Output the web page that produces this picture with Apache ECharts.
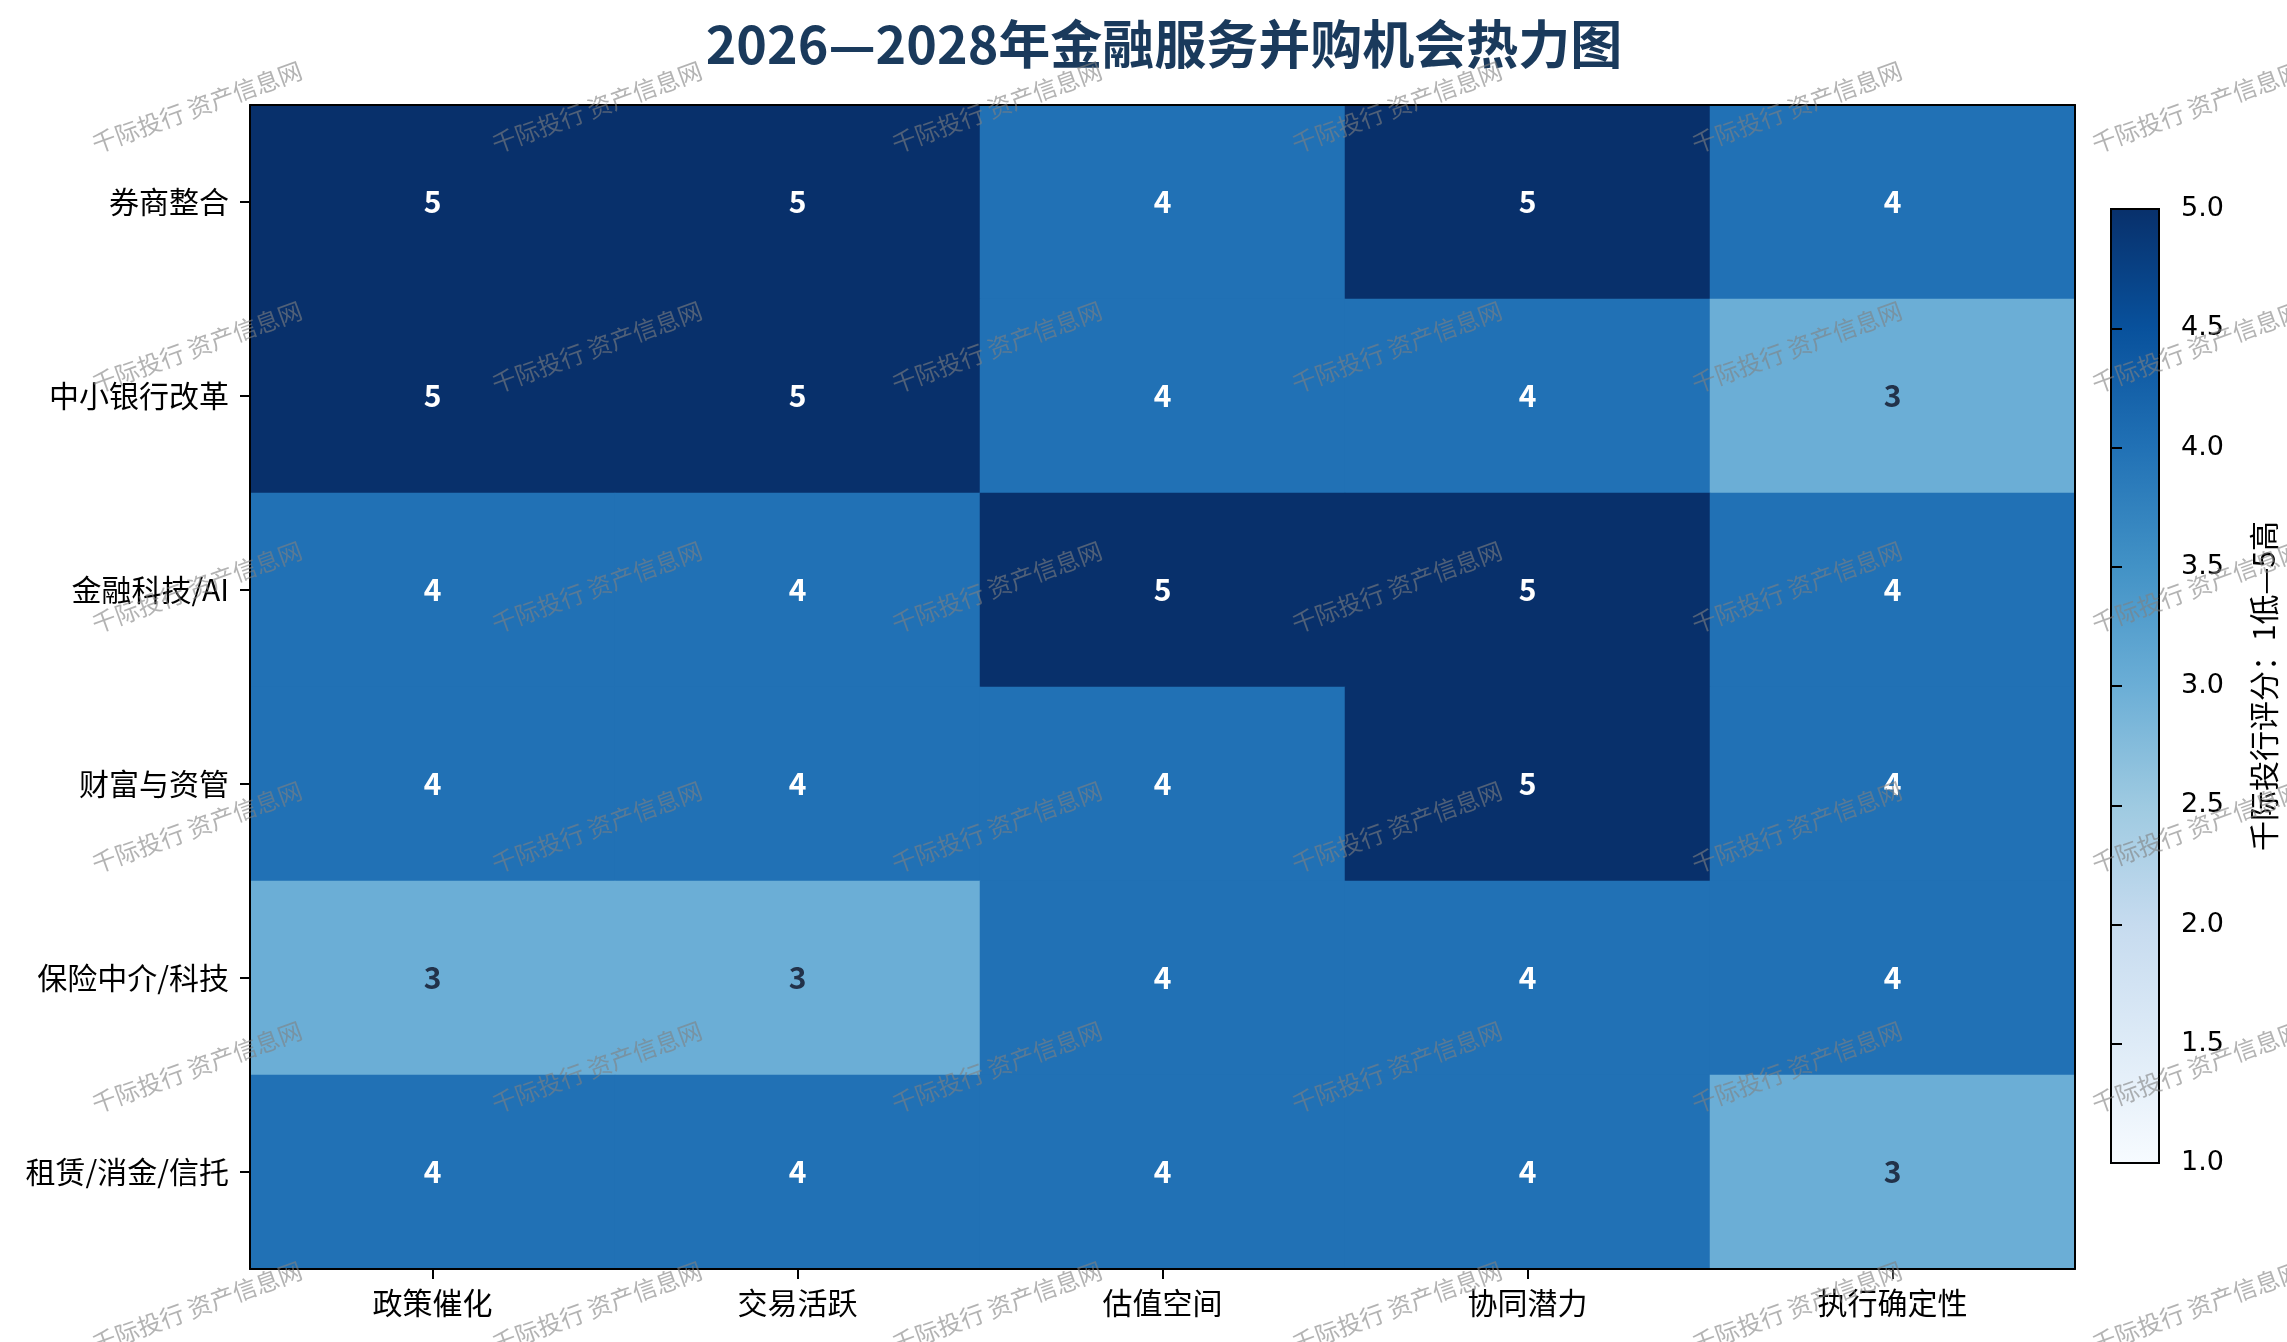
<!DOCTYPE html>
<html>
<head>
<meta charset="utf-8">
<title>2026—2028年金融服务并购机会热力图</title>
<script src="https://cdn.jsdelivr.net/npm/echarts@6/dist/echarts.min.js"></script>
<style>
  html, body { margin: 0; padding: 0; background: #fff; }
  #chart { width: 2287px; height: 1342px; }
</style>
</head>
<body>
<div id="chart"></div>
<script>
// 维度（x轴）与板块（y轴）
let dimensions = ["政策催化", "交易活跃", "估值空间", "协同潜力", "执行确定性"];
let sectors = ["券商整合", "中小银行改革", "金融科技/AI", "财富与资管", "保险中介/科技", "租赁/消金/信托"];

// 每个板块的评分，顺序同 dimensions
let scoreBroker = [5, 5, 4, 5, 4];
let scoreSmallBank = [5, 5, 4, 4, 3];
let scoreFintech = [4, 4, 5, 5, 4];
let scoreWealth = [4, 4, 4, 5, 4];
let scoreInsurance = [3, 3, 4, 4, 4];
let scoreLeasing = [4, 4, 4, 4, 3];
let scores = [scoreBroker, scoreSmallBank, scoreFintech, scoreWealth, scoreInsurance, scoreLeasing];

// 色条刻度
let scoreMin = 1;
let scoreMax = 5;
let cbTicks = [1.0, 1.5, 2.0, 2.5, 3.0, 3.5, 4.0, 4.5, 5.0];

// matplotlib Blues
let blues = ["#f7fbff", "#deebf7", "#c6dbef", "#9ecae1", "#6baed6", "#4292c6", "#2171b5", "#08519c", "#08306b"];

const FONT = "Noto Sans CJK SC";

let myChart = echarts.init(document.getElementById("chart"));

// 热力图数据 [x, y, value]
let heatData = [];
for (let r = 0; r < sectors.length; r++) {
  for (let c = 0; c < dimensions.length; c++) {
    let v = scores[r][c];
    heatData.push({
      value: [c, r, v],
      label: { color: v >= 4 ? "#ffffff" : "#22324a" },
    });
  }
}

// 水印
let watermarks = [];
for (let i = 0; i < 6; i++) {
  for (let j = 0; j < 6; j++) {
    watermarks.push({
      type: "text",
      x: 197 + 400 * i,
      y: 107 + 240 * j,
      rotation: (20 * Math.PI) / 180,
      z: 100,
      silent: true,
      style: {
        text: "千际投行 资产信息网",
        fill: "rgba(128,128,128,0.6)",
        font: "24px '" + FONT + "'",
        align: "center",
        verticalAlign: "middle",
      },
    });
  }
}

let cbStops = blues.map(function (c, i) {
  return { offset: i / (blues.length - 1), color: c };
});

let option = {
  animation: false,
  backgroundColor: "#ffffff",
  title: {
    text: "2026—2028年金融服务并购机会热力图",
    left: 1159,
    top: 13,
    textAlign: "center",
    textStyle: {
      fontFamily: FONT,
      fontSize: 52,
      fontWeight: "bold",
      color: "#1a3a5c",
    },
  },
  grid: [
    { left: 250, top: 105, width: 1825, height: 1164 },
    { left: 2111, top: 209, width: 48, height: 954 },
  ],
  xAxis: [
    {
      type: "category",
      gridIndex: 0,
      data: dimensions,
      position: "bottom",
      z: 5,
      axisLine: { show: true, lineStyle: { color: "#000", width: 2 } },
      axisTick: { show: true, alignWithLabel: true, length: 10, lineStyle: { color: "#000", width: 2 } },
      axisLabel: { fontFamily: FONT, fontSize: 30, color: "#000", margin: 19 },
      splitLine: { show: false },
      splitArea: { show: false },
    },
    {
      type: "category",
      gridIndex: 0,
      data: dimensions,
      position: "top",
      z: 5,
      axisLine: { show: true, lineStyle: { color: "#000", width: 2 } },
      axisTick: { show: false },
      axisLabel: { show: false },
    },
    {
      type: "value",
      gridIndex: 1,
      min: 0,
      max: 1,
      show: false,
    },
  ],
  yAxis: [
    {
      type: "category",
      gridIndex: 0,
      data: sectors,
      inverse: true,
      position: "left",
      z: 5,
      axisLine: { show: true, lineStyle: { color: "#000", width: 2 } },
      axisTick: { show: true, alignWithLabel: true, length: 10, lineStyle: { color: "#000", width: 2 } },
      axisLabel: { fontFamily: FONT, fontSize: 30, color: "#000", margin: 21 },
      splitLine: { show: false },
      splitArea: { show: false },
    },
    {
      type: "category",
      gridIndex: 0,
      data: sectors,
      inverse: true,
      position: "right",
      z: 5,
      axisLine: { show: true, lineStyle: { color: "#000", width: 2 } },
      axisTick: { show: false },
      axisLabel: { show: false },
    },
    {
      type: "value",
      gridIndex: 1,
      min: scoreMin,
      max: scoreMax,
      interval: 0.5,
      position: "right",
      z: 5,
      axisLine: { show: true, lineStyle: { color: "#000", width: 2 } },
      axisTick: { show: true, length: 11, lineStyle: { color: "#000", width: 2 } },
      axisLabel: {
        fontFamily: "DejaVu Sans",
        fontSize: 27,
        color: "#000",
        margin: 22,
        formatter: function (v) {
          return cbTicks.indexOf(v) >= 0 ? v.toFixed(1) : "";
        },
      },
      splitLine: { show: false },
      name: "千际投行评分：1低—5高",
      nameLocation: "middle",
      nameRotate: 90,
      nameGap: 90,
      nameTextStyle: { fontFamily: FONT, fontSize: 30, color: "#000" },
    },
  ],
  visualMap: {
    type: "continuous",
    show: false,
    min: scoreMin,
    max: scoreMax,
    seriesIndex: 0,
    dimension: 2,
    inRange: { color: blues },
  },
  series: [
    {
      type: "heatmap",
      xAxisIndex: 0,
      yAxisIndex: 0,
      data: heatData,
      label: {
        show: true,
        fontFamily: FONT,
        fontSize: 30,
        fontWeight: "bold",
        formatter: function (p) {
          return String(p.value[2]);
        },
      },
      itemStyle: { borderWidth: 0 },
      emphasis: { disabled: true },
    },
    {
      // 色条
      type: "custom",
      xAxisIndex: 2,
      yAxisIndex: 2,
      silent: true,
      data: [[0, scoreMin, 1, scoreMax]],
      renderItem: function (params, api) {
        let p0 = api.coord([api.value(0), api.value(3)]);
        let p1 = api.coord([api.value(2), api.value(1)]);
        return {
          type: "rect",
          shape: { x: p0[0], y: p0[1], width: p1[0] - p0[0], height: p1[1] - p0[1] },
          style: {
            fill: { type: "linear", x: 0, y: 1, x2: 0, y2: 0, colorStops: cbStops },
            stroke: "#000",
            lineWidth: 2,
          },
        };
      },
    },
  ],
  graphic: watermarks,
};

myChart.setOption(option);

window.addEventListener("resize", function () {
  myChart.resize();
});
</script>
</body>
</html>
